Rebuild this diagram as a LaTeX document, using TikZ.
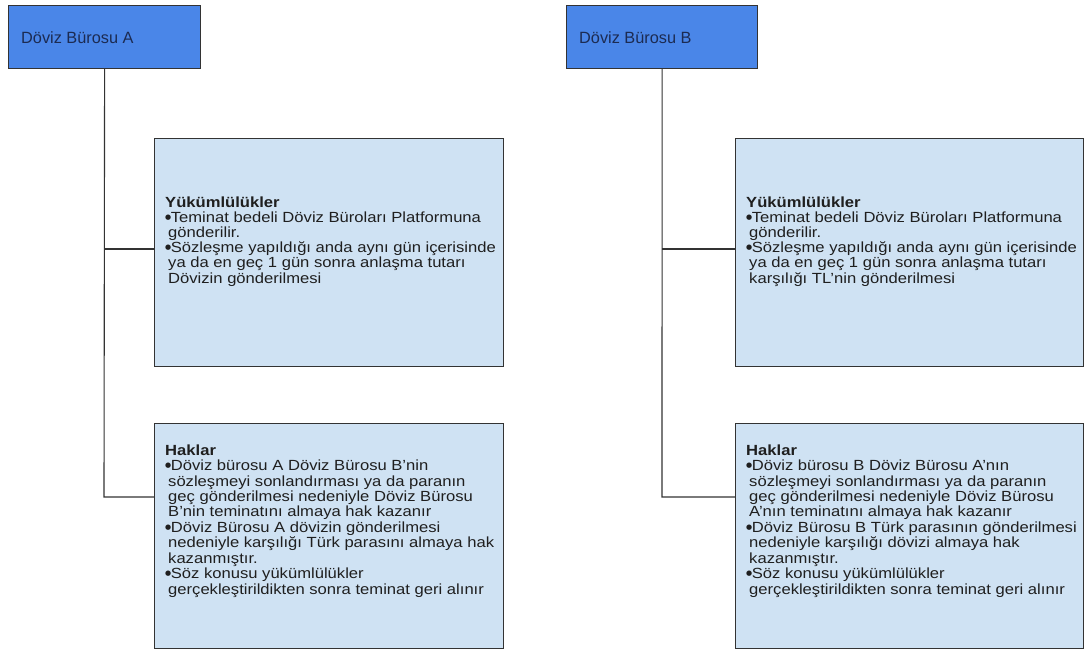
\documentclass[tikz,border=0pt]{standalone}
\usepackage{fontspec}
\setmainfont[FakeStretch=1.13]{Liberation Sans}
\newfontfamily\headfont{Liberation Sans}
\newfontfamily\dotfont{DejaVu Sans}
\newcommand\itemdot{\makebox[5.6pt][l]{\raisebox{2.8pt}{\dotfont\fontsize{7}{0}\selectfont ●}}}
\definecolor{headfill}{HTML}{4A86E8}
\definecolor{headtext}{HTML}{1C2B52}
\definecolor{cardfill}{HTML}{CFE2F3}
\definecolor{edge}{HTML}{333333}
\begin{document}
\begin{tikzpicture}[x=1pt,y=1pt,
  headbox/.style={draw=edge, line width=1.2pt, fill=headfill, rectangle, inner sep=0pt, anchor=north west},
  cardbox/.style={draw=edge, line width=1.2pt, fill=cardfill, rectangle, inner sep=0pt, anchor=north west},
  headlabel/.style={anchor=base west, inner sep=0pt, text=headtext, font=\headfont\fontsize{16.3}{18}\selectfont},
  cardtext/.style={anchor=north west, inner sep=0pt, align=left, text=black!88, font=\fontsize{14.7}{#1}\selectfont},
  cardtext/.default=15.3,
  link/.style={draw=edge, line width=1.1pt}
]
\useasboundingbox (0,0) rectangle (1086,-650);

% top-level offices
\node[headbox, minimum width=192, minimum height=63] (topA) at (8,-5) {};
\node[headlabel] (labA) at (21,-43.5) {Döviz Bürosu A};
\node[headbox, minimum width=191, minimum height=63] (topB) at (566,-5) {};
\node[headlabel] (labB) at (579,-43.5) {Döviz Bürosu B};

% obligation and rights cards
\node[cardbox, minimum width=349, minimum height=228] (yA) at (154,-138) {};
\node[cardbox, minimum width=349, minimum height=225] (hA) at (154,-423) {};
\node[cardbox, minimum width=348, minimum height=228] (yB) at (735,-138) {};
\node[cardbox, minimum width=348, minimum height=225] (hB) at (735,-423) {};

% tree connectors
\coordinate (jA1) at (104,-249);
\coordinate (jA2) at (104,-497);
\coordinate (jB1) at (662,-249);
\coordinate (jB2) at (662,-497);
\draw[link] (topA.south) -- (jA2) -- (jA2 -| hA.west);
\draw[link] (jA1) -- (jA1 -| yA.west);
\draw[link] (topB.south) -- (jB2) -- (jB2 -| hB.west);
\draw[link] (jB1) -- (jB1 -| yB.west);

% card texts
\node[cardtext=15.2] (tyA) at (165,-196.3) {%
\textbf{Yükümlülükler}\\
\itemdot Teminat bedeli Döviz Büroları Platformuna\\
\hspace*{3pt}gönderilir.\\
\itemdot Sözleşme yapıldığı anda aynı gün içerisinde\\
\hspace*{3pt}ya da en geç 1 gün sonra anlaşma tutarı\\
\hspace*{3pt}Dövizin gönderilmesi};

\node[cardtext=15.2] (tyB) at (746,-196.3) {%
\textbf{Yükümlülükler}\\
\itemdot Teminat bedeli Döviz Büroları Platformuna\\
\hspace*{3pt}gönderilir.\\
\itemdot Sözleşme yapıldığı anda aynı gün içerisinde\\
\hspace*{3pt}ya da en geç 1 gün sonra anlaşma tutarı\\
\hspace*{3pt}karşılığı TL’nin gönderilmesi};

\node[cardtext=15.45] (thA) at (165,-444.3) {%
\textbf{Haklar}\\
\itemdot Döviz bürosu A Döviz Bürosu B’nin\\
\hspace*{3pt}sözleşmeyi sonlandırması ya da paranın\\
\hspace*{3pt}geç gönderilmesi nedeniyle Döviz Bürosu\\
\hspace*{3pt}B’nin teminatını almaya hak kazanır\\
\itemdot Döviz Bürosu A dövizin gönderilmesi\\
\hspace*{3pt}nedeniyle karşılığı Türk parasını almaya hak\\
\hspace*{3pt}kazanmıştır.\\
\itemdot Söz konusu yükümlülükler\\
\hspace*{3pt}gerçekleştirildikten sonra teminat geri alınır};

\node[cardtext=15.45] (thB) at (746,-444.3) {%
\textbf{Haklar}\\
\itemdot Döviz bürosu B Döviz Bürosu A’nın\\
\hspace*{3pt}sözleşmeyi sonlandırması ya da paranın\\
\hspace*{3pt}geç gönderilmesi nedeniyle Döviz Bürosu\\
\hspace*{3pt}A’nın teminatını almaya hak kazanır\\
\itemdot Döviz Bürosu B Türk parasının gönderilmesi\\
\hspace*{3pt}nedeniyle karşılığı dövizi almaya hak\\
\hspace*{3pt}kazanmıştır.\\
\itemdot Söz konusu yükümlülükler\\
\hspace*{3pt}gerçekleştirildikten sonra teminat geri alınır};
\end{tikzpicture}
\end{document}
